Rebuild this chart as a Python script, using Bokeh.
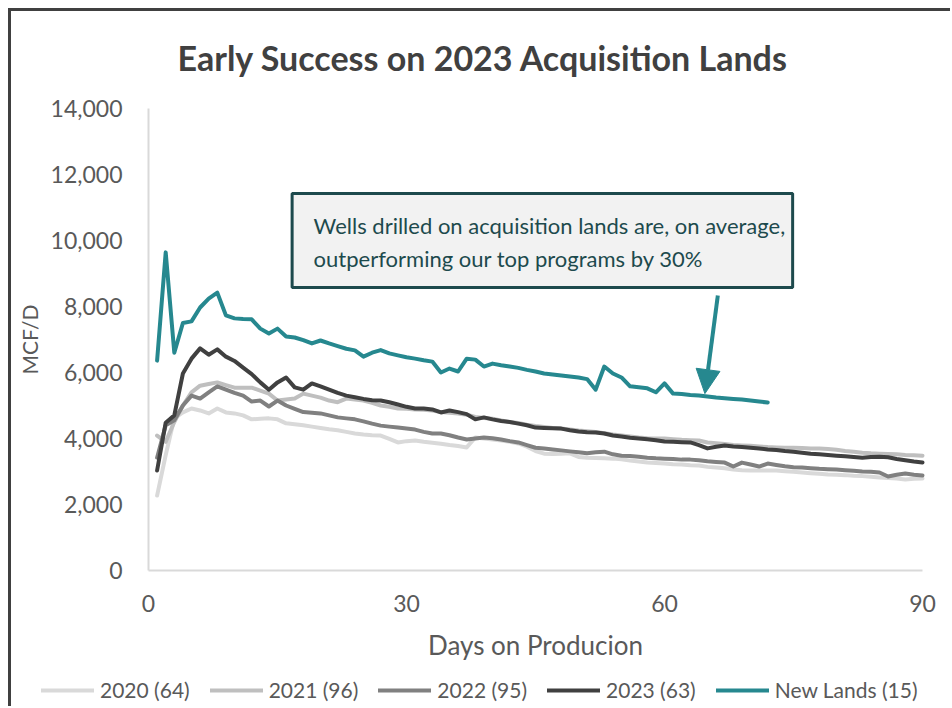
from bokeh.plotting import figure
from bokeh.models import (Range1d, FixedTicker, NumeralTickFormatter, Legend, LegendItem,
                          BoxAnnotation, Label, Arrow, NormalHead)
from bokeh.embed import file_html
from bokeh.resources import INLINE

title_text = "Early Success on 2023 Acquisition Lands"
x_label = "Days on Producion"
y_label = "MCF/D"
x_ticks = [0, 30, 60, 90]
y_ticks = [0, 2000, 4000, 6000, 8000, 10000, 12000, 14000]
x_bounds = (0, 90)
y_bounds = (0, 14000)

series_names = ["2020 (64)", "2021 (96)", "2022 (95)", "2023 (63)", "New Lands (15)"]

days = list(range(1, 91))
days_new = list(range(1, 73))

v2020 = [2270, 3500, 4610, 4790, 4910, 4850, 4760, 4910, 4790, 4760,
         4700, 4580, 4600, 4610, 4580, 4460, 4430, 4400, 4360, 4320,
         4280, 4250, 4200, 4150, 4120, 4100, 4090, 3990, 3880, 3920,
         3940, 3900, 3870, 3840, 3800, 3770, 3730, 4030, 4000, 3970,
         3940, 3900, 3850, 3750, 3620, 3540, 3530, 3540, 3550, 3440,
         3420, 3410, 3400, 3390, 3370, 3330, 3300, 3270, 3260, 3240,
         3220, 3210, 3190, 3180, 3140, 3120, 3100, 3060, 3040, 3030,
         3030, 3030, 3030, 3010, 2990, 2970, 2950, 2930, 2910, 2900,
         2890, 2870, 2860, 2840, 2820, 2800, 2790, 2760, 2780, 2790]

v2021 = [4090, 3900, 4500, 5000, 5400, 5600, 5650, 5700, 5620, 5540,
         5540, 5540, 5450, 5360, 5150, 5180, 5210, 5360, 5300, 5240,
         5150, 5100, 5210, 5180, 5150, 5080, 5000, 4960, 4910, 4900,
         4880, 4870, 4850, 4800, 4780, 4760, 4720, 4650, 4620, 4600,
         4550, 4500, 4470, 4420, 4380, 4350, 4320, 4300, 4270, 4240,
         4220, 4200, 4160, 4120, 4090, 4060, 4030, 4010, 4000, 4000,
         3980, 3960, 3950, 3940, 3880, 3860, 3830, 3800, 3790, 3780,
         3760, 3740, 3730, 3720, 3720, 3710, 3700, 3700, 3680, 3660,
         3620, 3600, 3570, 3550, 3540, 3530, 3520, 3500, 3490, 3480]

v2022 = [3420, 4400, 4550, 5000, 5300, 5210, 5400, 5580, 5480, 5380,
         5300, 5120, 5150, 4970, 5150, 5000, 4900, 4800, 4780, 4760,
         4700, 4640, 4610, 4580, 4520, 4450, 4390, 4360, 4330, 4300,
         4270, 4200, 4150, 4150, 4100, 4030, 3970, 4000, 4030, 4010,
         3970, 3920, 3880, 3800, 3720, 3700, 3670, 3640, 3610, 3580,
         3550, 3580, 3600, 3520, 3480, 3470, 3450, 3420, 3400, 3390,
         3380, 3360, 3360, 3340, 3310, 3290, 3270, 3150, 3270, 3210,
         3150, 3240, 3200, 3160, 3130, 3120, 3100, 3080, 3070, 3060,
         3040, 3020, 3000, 2990, 2970, 2850, 2900, 2940, 2900, 2880]

v2023 = [3030, 4480, 4700, 5970, 6420, 6730, 6540, 6700, 6480, 6350,
         6150, 5950, 5700, 5480, 5700, 5850, 5550, 5480, 5670, 5580,
         5480, 5380, 5300, 5250, 5200, 5160, 5150, 5100, 5030, 4960,
         4910, 4910, 4880, 4790, 4850, 4800, 4740, 4580, 4640, 4580,
         4530, 4500, 4450, 4400, 4330, 4320, 4310, 4300, 4250, 4210,
         4190, 4180, 4150, 4090, 4060, 4020, 4000, 3980, 3950, 3910,
         3900, 3890, 3880, 3800, 3700, 3750, 3790, 3760, 3740, 3720,
         3700, 3670, 3650, 3620, 3600, 3570, 3540, 3520, 3500, 3480,
         3460, 3440, 3420, 3440, 3450, 3430, 3380, 3340, 3300, 3270]

v_new = [6360, 9640, 6600, 7500, 7550, 7970, 8240, 8420, 7730, 7640,
         7620, 7610, 7330, 7180, 7330, 7090, 7060, 6980, 6880, 6970,
         6880, 6800, 6720, 6670, 6480, 6600, 6680, 6580, 6520, 6460,
         6420, 6370, 6330, 6000, 6120, 6030, 6420, 6390, 6180, 6270,
         6220, 6180, 6140, 6080, 6030, 5970, 5940, 5910, 5880, 5850,
         5800, 5480, 6180, 5970, 5850, 5580, 5550, 5520, 5400, 5670,
         5360, 5350, 5320, 5300, 5270, 5240, 5220, 5200, 5180, 5150,
         5120, 5090]

note_line1 = "Wells drilled on acquisition lands are, on average,"
note_line2 = "outperforming our top programs by 30%"

FONT = "Lato"
TEAL = "#26888f"
DARK = "#1d4a4d"
colors = ["#d9d9d9", "#bfbfbf", "#808080", "#404040", TEAL]

# layout (pixels): plot area 774 x 462 px for 90 days x 14,000 MCF/D,
# frame widened so axis texts and legend are drawn inside it
PX_X = 774 / 90.0
PX_Y = 462 / 14000.0
LEFT_PAD, RIGHT_PAD, TOP_PAD, BOTTOM_PAD = 137, 28, 9, 136

p = figure(frame_width=LEFT_PAD + 774 + RIGHT_PAD, frame_height=TOP_PAD + 462 + BOTTOM_PAD,
           output_backend="svg", toolbar_location=None,
           x_range=Range1d(x_bounds[0] - LEFT_PAD / PX_X, x_bounds[1] + RIGHT_PAD / PX_X),
           y_range=Range1d(y_bounds[0] - BOTTOM_PAD / PX_Y, y_bounds[1] + TOP_PAD / PX_Y),
           min_border_left=0, min_border_right=0, min_border_top=88, min_border_bottom=0)
p.styles = {"margin-left": "8px", "margin-top": "8px",
            "border-left": "3px solid #404040", "border-top": "3px solid #404040"}
p.outline_line_color = None
p.xgrid.visible = False
p.ygrid.visible = False

p.title.text = title_text
p.title.align = "left"
p.title.offset = 166
p.title.text_font = FONT
p.title.text_font_size = "34px"
p.title.text_font_style = "bold"
p.title.text_color = "#404040"
p.title.standoff = 44

for ax in (p.xaxis[0], p.yaxis[0]):
    ax.fixed_location = 0
    ax.axis_line_color = "#d9d9d9"
    ax.axis_line_width = 2
    ax.major_tick_line_color = None
    ax.minor_tick_line_color = None
    ax.major_tick_out = 0
    ax.major_tick_in = 0
    ax.minor_tick_out = 0
    ax.major_label_text_font = FONT
    ax.major_label_text_font_size = "23px"
    ax.major_label_text_color = "#595959"
    ax.axis_label_text_font = FONT
    ax.axis_label_text_font_style = "normal"
    ax.axis_label_text_color = "#595959"

p.xaxis.bounds = x_bounds
p.yaxis.bounds = y_bounds
p.xaxis.ticker = FixedTicker(ticks=x_ticks)
p.yaxis.ticker = FixedTicker(ticks=y_ticks)
p.yaxis.formatter = NumeralTickFormatter(format="0,0")
p.xaxis.axis_label = x_label
p.yaxis.axis_label = y_label
p.xaxis.axis_label_text_font_size = "26px"
p.yaxis.axis_label_text_font_size = "21px"
p.xaxis.major_label_standoff = 24
p.yaxis.major_label_standoff = 26
p.xaxis.axis_label_standoff = 14
p.yaxis.axis_label_standoff = 6

renderers = []
for xs, ys, c in [(days, v2020, colors[0]), (days, v2021, colors[1]), (days, v2022, colors[2]),
                  (days, v2023, colors[3]), (days_new, v_new, colors[4])]:
    r = p.line(xs, ys, line_color=c, line_width=4, line_join="round", line_cap="round")
    renderers.append(r)

box = BoxAnnotation(left=16.7, right=74.9, bottom=8576, top=11424,
                    fill_color="#f2f2f2", fill_alpha=1.0,
                    line_color=DARK, line_width=3, line_alpha=1.0)
p.add_layout(box)
p.add_layout(Label(x=19.2, y=10455, text=note_line1, text_font=FONT, text_font_size="22px",
                   text_color=DARK, text_baseline="middle"))
p.add_layout(Label(x=19.2, y=9455, text=note_line2, text_font=FONT, text_font_size="22px",
                   text_color=DARK, text_baseline="middle"))

arrow = Arrow(end=NormalHead(size=24, fill_color=TEAL, line_color=TEAL),
              x_start=66.2, y_start=8330, x_end=64.7, y_end=5360,
              line_color=TEAL, line_width=4)
p.add_layout(arrow)

legend = Legend(items=[LegendItem(label=n, renderers=[r]) for n, r in zip(series_names, renderers)],
                orientation="horizontal", location=(30, 4),
                label_text_font=FONT, label_text_font_size="21px", label_text_color="#595959",
                glyph_width=53, spacing=20, label_standoff=6,
                border_line_color=None, background_fill_alpha=0, margin=0, padding=2)
p.add_layout(legend, "center")

open("out.html", "w").write(file_html(p, INLINE))
